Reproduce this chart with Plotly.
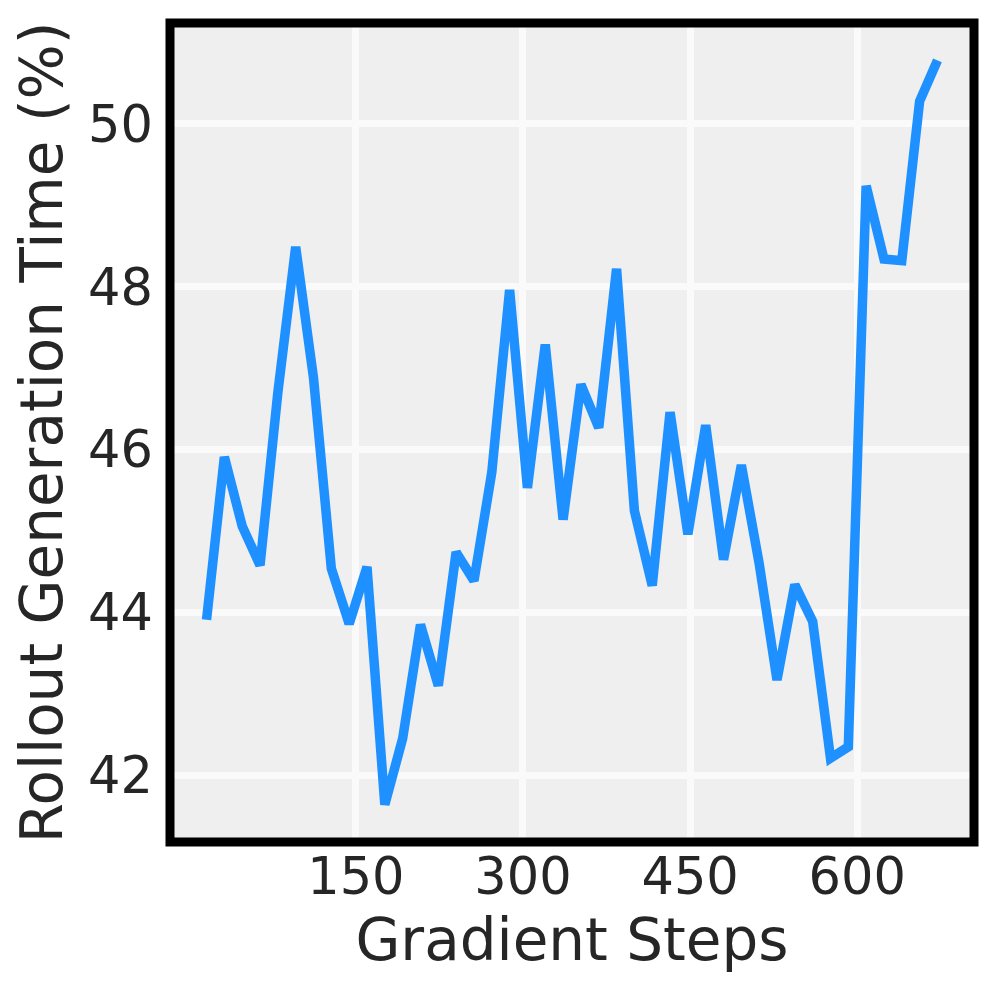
import plotly.graph_objects as go

steps = [16 * i for i in range(1, 43)]
rollout_pct = [
    43.91, 45.91, 45.06, 44.58, 46.70, 48.49, 46.88, 44.54, 43.86, 44.56,
    41.64, 42.45, 43.85, 43.10, 44.74, 44.39, 45.72, 47.96, 45.53, 47.29,
    45.14, 46.80, 46.27, 48.22, 45.25, 44.33, 46.46, 44.96, 46.30, 44.65,
    45.81, 44.60, 43.17, 44.34, 43.89, 42.21, 42.35, 49.24, 48.34, 48.32,
    50.28, 50.78,
]
x_ticks = [150, 300, 450, 600]
y_ticks = [42, 44, 46, 48, 50]

FONT = "DejaVu Sans"
TXT = "#262626"

fig = go.Figure()
fig.add_trace(go.Scatter(
    x=steps, y=rollout_pct, mode="lines",
    line=dict(color="#1E90FF", width=9.5),
    showlegend=False,
))

fig.update_layout(
    width=997, height=997,
    margin=dict(l=161.5, r=31, t=14.5, b=162.5, autoexpand=False),
    paper_bgcolor="white",
    plot_bgcolor="#EFEFEF",
    font=dict(family=FONT, color=TXT, size=51),
    shapes=[dict(type="rect", xref="paper", yref="paper", x0=0, y0=0, x1=1, y1=1,
                 line=dict(color="black", width=9), layer="above")],
)
fig.update_xaxes(
    range=[-16.8, 704.8], tickvals=x_ticks, ticktext=[str(v) for v in x_ticks],
    showgrid=True, gridcolor="#FAFAFA", gridwidth=7, zeroline=False,
    showline=False, ticks="", ticklabelstandoff=0,
    tickfont=dict(size=51, family=FONT, color=TXT),
    title=dict(text="Gradient Steps", font=dict(size=58, family=FONT, color=TXT), standoff=0),
)
fig.update_yaxes(
    range=[41.18, 51.24], tickvals=y_ticks, ticktext=[str(v) for v in y_ticks],
    showgrid=True, gridcolor="#FAFAFA", gridwidth=7, zeroline=False,
    showline=False, ticks="", ticklabelstandoff=16,
    tickfont=dict(size=51, family=FONT, color=TXT),
    title=dict(text="Rollout Generation Time (%)", font=dict(size=58, family=FONT, color=TXT), standoff=8),
)

fig.write_html("out.html")
